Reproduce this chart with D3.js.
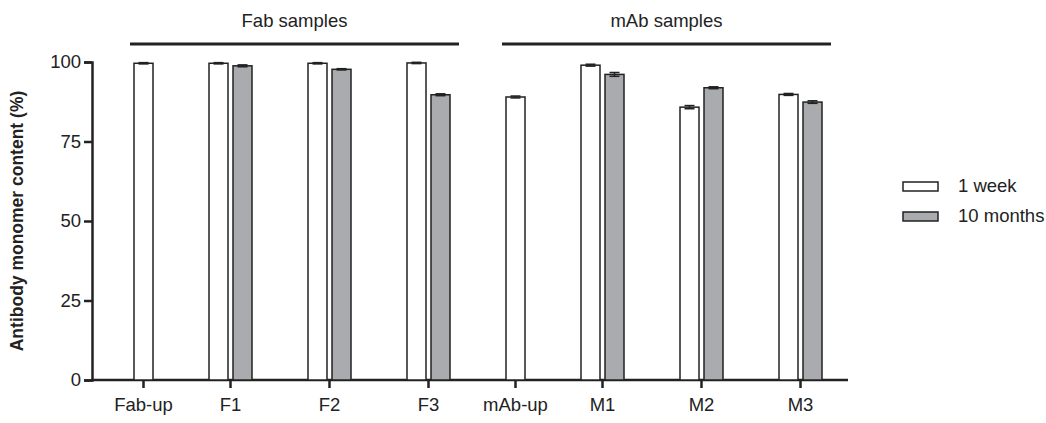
<!DOCTYPE html>
<html>
<head>
<meta charset="utf-8">
<script src="https://cdn.jsdelivr.net/npm/d3@7"></script>
<style>
  body { margin: 0; background: #fff; }
  svg text { font-family: "Liberation Sans", Arial, Helvetica, sans-serif; fill: #222; }
</style>
</head>
<body>
<div id="chart"></div>
<script>
// categories, in plotted order
const categories = ["Fab-up", "F1", "F2", "F3", "mAb-up", "M1", "M2", "M3"];
// series values (null = no bar)
const week1 = [99.6, 99.6, 99.6, 99.7, 89.0, 99.0, 85.8, 89.8];
const week1Err = [0.2, 0.2, 0.2, 0.2, 0.3, 0.3, 0.5, 0.3];
const month10 = [null, 98.8, 97.7, 89.7, null, 96.1, 91.9, 87.4];
const month10Err = [null, 0.3, 0.2, 0.3, null, 0.6, 0.3, 0.4];
const seriesNames = ["1 week", "10 months"];
const yTicks = [0, 25, 50, 75, 100];
// sample groups drawn as brackets on top
const groups = [
  { label: "Fab samples", members: ["Fab-up", "F1", "F2", "F3"] },
  { label: "mAb samples", members: ["mAb-up", "M1", "M2", "M3"] }
];

const W = 1046, H = 423;
const fills = ["#ffffff", "#aaabae"];
const stroke = "#222";
const fs = "18.5px";

const svg = d3.select("#chart").append("svg")
  .attr("width", W).attr("height", H);

const y = d3.scaleLinear().domain([0, 100]).range([380, 62]);

// bars packed left to right: bar = 1 unit, gaps in bar units
const barPx = 19, innerGap = 5 / 19, outerGap = 56 / 19;
const layout = [];
let pos = 0;
categories.forEach((c, i) => {
  const n = month10[i] == null ? 1 : 2;
  const start = pos;
  const bars = [];
  for (let k = 0; k < n; k++) {
    bars.push(pos);
    pos += 1 + (k < n - 1 ? innerGap : 0);
  }
  layout.push({ cat: c, i, start, end: pos, center: (start + pos) / 2, bars });
  pos += outerGap;
});
const total = pos - outerGap;
const x = d3.scaleLinear().domain([0, total]).range([134, 134 + total * barPx]);

// y axis
const yAxis = d3.axisLeft(y).tickValues(yTicks).tickSize(8).tickPadding(3);
const gy = svg.append("g").attr("transform", "translate(92,0)").call(yAxis);
gy.select(".domain").attr("stroke", stroke).attr("stroke-width", 2.5);
gy.selectAll(".tick line").attr("stroke", stroke).attr("stroke-width", 2.5);
gy.selectAll(".tick text").style("font-size", fs).attr("font-family", null);

// x axis
svg.append("line")
  .attr("x1", 91).attr("x2", 848).attr("y1", y(0)).attr("y2", y(0))
  .attr("stroke", stroke).attr("stroke-width", 2.5);
const gx = svg.append("g");
layout.forEach(l => {
  gx.append("line")
    .attr("x1", x(l.center)).attr("x2", x(l.center))
    .attr("y1", y(0)).attr("y2", y(0) + 8)
    .attr("stroke", stroke).attr("stroke-width", 2.5);
  gx.append("text")
    .attr("x", x(l.center)).attr("y", 411)
    .attr("text-anchor", "middle")
    .style("font-size", fs)
    .text(l.cat);
});

// bars + error bars
const seriesVals = [week1, month10];
const seriesErr = [week1Err, month10Err];
layout.forEach(l => {
  l.bars.forEach((b, k) => {
    const v = seriesVals[k][l.i], e = seriesErr[k][l.i];
    const cx = x(b + 0.5);
    svg.append("rect")
      .attr("x", x(b)).attr("y", y(v))
      .attr("width", x(b + 1) - x(b)).attr("height", y(0) - y(v))
      .attr("fill", fills[k]).attr("stroke", stroke).attr("stroke-width", 1.5);
    svg.append("line")
      .attr("x1", cx).attr("x2", cx).attr("y1", y(v + e)).attr("y2", y(v - e))
      .attr("stroke", stroke).attr("stroke-width", 1.5);
    [v + e, v - e].forEach(t => {
      svg.append("line")
        .attr("x1", cx - 5).attr("x2", cx + 5).attr("y1", y(t)).attr("y2", y(t))
        .attr("stroke", stroke).attr("stroke-width", 1.5);
    });
  });
});

// group brackets
groups.forEach(g => {
  const ls = layout.filter(l => g.members.includes(l.cat));
  const x0 = x(ls[0].start) - 4, x1 = x(ls[ls.length - 1].end) + 9;
  svg.append("line")
    .attr("x1", x0).attr("x2", x1).attr("y1", 44).attr("y2", 44)
    .attr("stroke", stroke).attr("stroke-width", 3);
  svg.append("text")
    .attr("x", (x0 + x1) / 2).attr("y", 27)
    .attr("text-anchor", "middle")
    .style("font-size", fs)
    .text(g.label);
});

// y title
svg.append("text")
  .attr("transform", `translate(23,${y(50)}) rotate(-90)`)
  .attr("text-anchor", "middle")
  .style("font-size", "17.5px").style("font-weight", "bold")
  .text("Antibody monomer content (%)");

// legend
const leg = svg.append("g");
seriesNames.forEach((s, k) => {
  const ly = 186 + k * 30;
  leg.append("rect")
    .attr("x", 903).attr("y", ly - 4).attr("width", 35).attr("height", 9)
    .attr("fill", fills[k]).attr("stroke", stroke).attr("stroke-width", 1.5);
  leg.append("text")
    .attr("x", 958).attr("y", ly + 6)
    .style("font-size", fs)
    .text(s);
});
</script>
</body>
</html>
